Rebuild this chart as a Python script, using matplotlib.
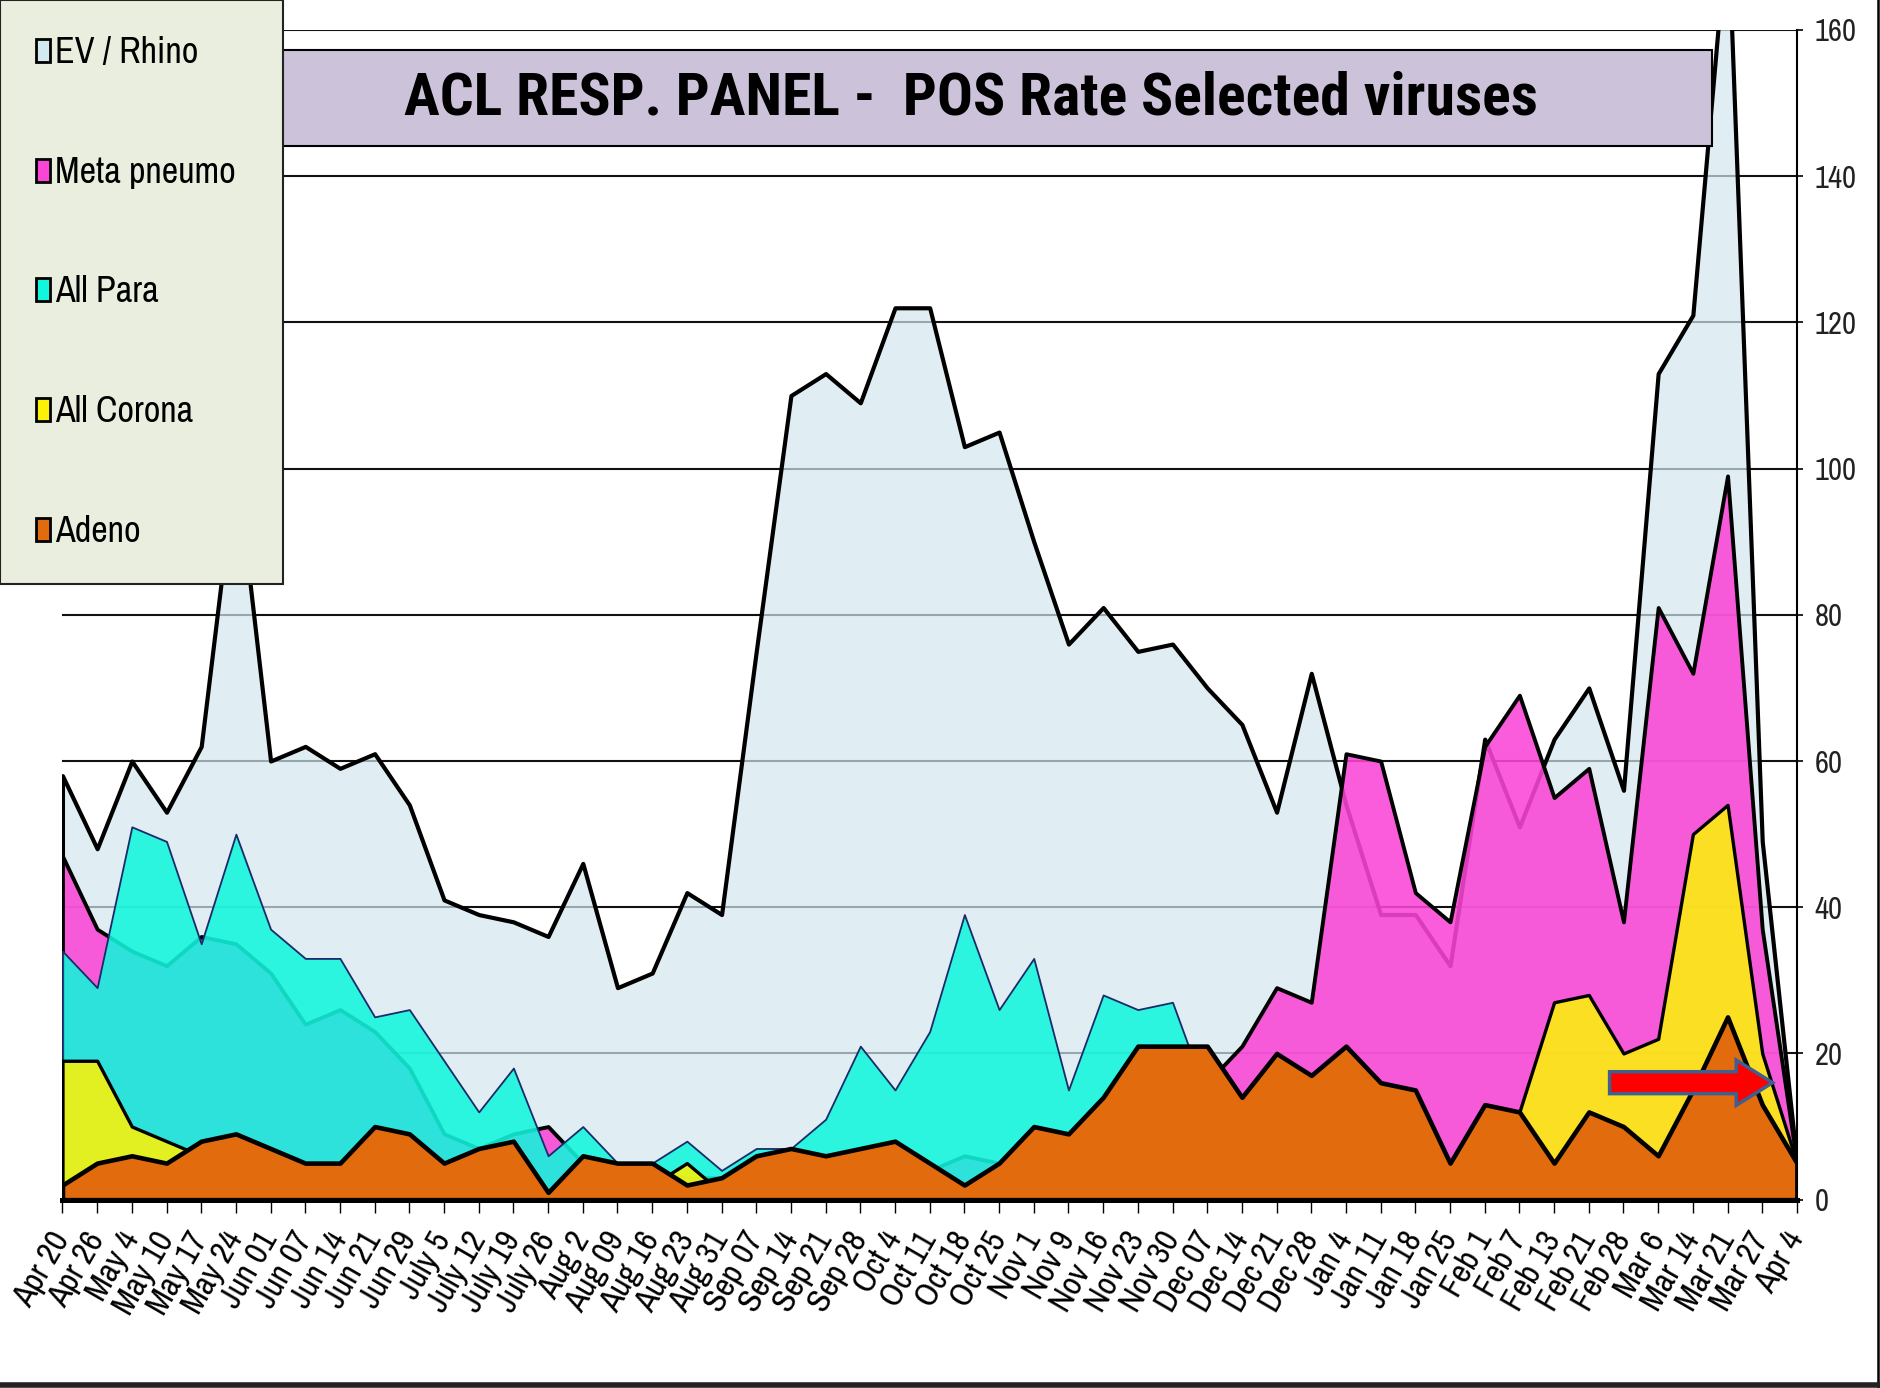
import numpy as np
import matplotlib
matplotlib.use("Agg")
import matplotlib.pyplot as plt
from matplotlib import font_manager
from matplotlib.patches import Patch, Rectangle, FancyArrow
from matplotlib.lines import Line2D

# week labels
weeks = ["Apr 20", "Apr 26", "May 4", "May 10", "May 17", "May 24", "Jun 01", "Jun 07",
         "Jun 14", "Jun 21", "Jun 29", "July 5", "July 12", "July 19", "July 26", "Aug 2",
         "Aug 09", "Aug 16", "Aug 23", "Aug 31", "Sep 07", "Sep 14", "Sep 21", "Sep 28",
         "Oct 4", "Oct 11", "Oct 18", "Oct 25", "Nov 1", "Nov 9", "Nov 16", "Nov 23",
         "Nov 30", "Dec 07", "Dec 14", "Dec 21", "Dec 28", "Jan 4", "Jan 11", "Jan 18",
         "Jan 25", "Feb 1", "Feb 7", "Feb 13", "Feb 21", "Feb 28", "Mar 6", "Mar 14",
         "Mar 21", "Mar 27", "Apr 4"]

ev_rhino = [58, 48, 60, 53, 62, 101, 60, 62, 59, 61, 54, 41, 39, 38, 36, 46, 29, 31, 42, 39,
            75, 110, 113, 109, 122, 122, 103, 105, 90, 76, 81, 75, 76, 70, 65, 53, 72, 54, 39, 39,
            32, 63, 51, 63, 70, 56, 113, 121, 175, 49, 5]
meta_pneumo = [47, 37, 34, 32, 36, 35, 31, 24, 26, 23, 18, 9, 7, 9, 10, 5, 4, 4, 3, 3,
               4, 5, 5, 4, 4, 4, 6, 5, 5, 6, 7, 8, 10, 16, 21, 29, 27, 61, 60, 42,
               38, 62, 69, 55, 59, 38, 81, 72, 99, 37, 5]
all_para = [34, 29, 51, 49, 35, 50, 37, 33, 33, 25, 26, 19, 12, 18, 6, 10, 5, 5, 8, 4,
            7, 7, 11, 21, 15, 23, 39, 26, 33, 15, 28, 26, 27, 14, 5, 3, 3, 3, 2, 2,
            2, 2, 2, 2, 2, 2, 2, 2, 2, 2, 2]
all_corona = [19, 19, 10, 8, 6, 3, 2, 1, 1, 1, 1, 1, 1, 1, 0, 0, 0, 2, 5, 1,
              0, 0, 0, 0, 0, 0, 0, 0, 0, 0, 0, 0, 0, 0, 0, 0, 0, 0, 0, 0,
              0, 4, 12, 27, 28, 20, 22, 50, 54, 20, 5]
adeno = [2, 5, 6, 5, 8, 9, 7, 5, 5, 10, 9, 5, 7, 8, 1, 6, 5, 5, 2, 3,
         6, 7, 6, 7, 8, 5, 2, 5, 10, 9, 14, 21, 21, 21, 14, 20, 17, 21, 16, 15,
         5, 13, 12, 5, 12, 10, 6, 15, 25, 13, 5]


def pick(cands, weight=400):
    # first installed family that has the wanted weight
    for c in cands:
        ws = []
        for f in font_manager.fontManager.ttflist:
            if f.name == c and f.style == "normal":
                w = f.weight
                if isinstance(w, str):
                    w = font_manager.weight_dict.get(w, 400)
                ws.append(int(w))
        if ws and max(ws) >= weight:
            return c
    return "DejaVu Sans"


narrow = pick(["Liberation Sans Narrow", "Archivo Narrow", "Roboto Condensed", "Asap Condensed"])
narrow_bold = pick(["Liberation Sans Narrow", "Roboto Condensed", "Archivo Narrow",
                    "Asap Condensed", "Barlow Condensed"], 700)
plt.rcParams["font.family"] = [narrow, "DejaVu Sans"]

fig = plt.figure(figsize=(18.81, 13.88), dpi=100)
ax = fig.add_axes([0.0332, 0.1357, 0.9221, 0.8427])

x = np.arange(len(weeks))

# back to front, like the original overlapping area chart
series = [
    ("EV / Rhino", ev_rhino, (0.827, 0.910, 0.937, 0.70), "black", 3.0),
    ("Meta pneumo", meta_pneumo, (0.98, 0.27, 0.84, 0.88), "black", 2.8),
    ("All Para", all_para, (0.07, 0.965, 0.867, 0.88), "#1a2a6a", 1.3),
    ("All Corona", all_corona, (0.99, 0.95, 0.03, 0.88), "black", 2.4),
    ("Adeno", adeno, (0.886, 0.424, 0.05, 1.0), "black", 3.3),
]
for name, vals, fc, ec, lw in series:
    ax.fill_between(x, 0, vals, facecolor=fc, edgecolor=ec, linewidth=lw)

ax.set_xlim(0, 50)
ax.set_ylim(0, 160)
ax.set_yticks(np.arange(0, 161, 20))
ax.yaxis.tick_right()
ax.yaxis.grid(True, color="#111111", linewidth=1.5)
ax.set_axisbelow(True)
ax.tick_params(axis="y", direction="out", length=4.5, width=1.2, pad=8,
               labelsize=22, labelcolor="#222222")
ax.set_xticks(x)
ax.set_xticklabels(weeks, rotation=60, ha="right", va="center", rotation_mode="anchor",
                   fontsize=24)
ax.tick_params(axis="x", direction="out", length=9, width=1.0, pad=16)
for s in ["left", "top"]:
    ax.spines[s].set_visible(False)
ax.spines["right"].set_linewidth(1.5)
ax.spines["bottom"].set_linewidth(3.6)
ax.set_facecolor("white")

# red arrow pointing at the latest week
ax.add_patch(FancyArrow(44.6, 16, 4.7, 0, width=3.0, head_width=6.2, head_length=1.05,
                        length_includes_head=True, facecolor="#ff0000",
                        edgecolor="#3f5f8f", linewidth=2.5, zorder=10))

# title box
fig.add_artist(Rectangle((0.1218, 0.8948), 0.7884, 0.0692, transform=fig.transFigure,
                         facecolor="#ccc2da", edgecolor="black", linewidth=1.5, zorder=3))
fig.text(0.516, 0.929, "ACL RESP. PANEL -  POS Rate Selected viruses", ha="center",
         va="center", fontsize=43, fontweight="bold", family=[narrow_bold, "DejaVu Sans"],
         zorder=4)

handles = [Patch(facecolor=fc[:3], edgecolor="black", linewidth=2) for _, _, fc, _, _ in series]
leg = fig.legend(handles, [s[0] for s in series], loc="upper left",
                 bbox_to_anchor=(0.0, 0.0, 0.1505, 1.0), bbox_transform=fig.transFigure,
                 mode="expand", borderaxespad=0, fontsize=26, handlelength=0.38,
                 handleheight=0.6, handletextpad=0.15, labelspacing=2.4, borderpad=1.0,
                 fancybox=False, framealpha=1)
leg.get_frame().set_facecolor("#eaeedf")
leg.get_frame().set_edgecolor("#222222")
leg.get_frame().set_linewidth(1.5)

# slide frame on right and bottom
fig.add_artist(Line2D([0.9984, 0.9984], [0.0, 1.0], transform=fig.transFigure,
                      color="black", linewidth=1.8))
fig.add_artist(Line2D([0.0, 1.0], [0.0025, 0.0025], transform=fig.transFigure,
                      color="#222222", linewidth=4))

fig.savefig("out.png", dpi=100, facecolor="white")
